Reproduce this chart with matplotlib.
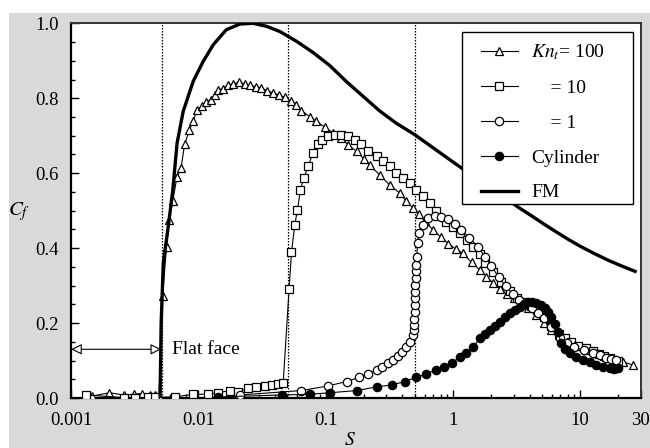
import matplotlib
matplotlib.use('Agg')
import matplotlib.pyplot as plt
from matplotlib.patches import Rectangle

plt.rcParams['font.family'] = ['Liberation Serif', 'DejaVu Serif']
plt.rcParams['mathtext.fontset'] = 'stix'
plt.rcParams['font.size'] = 11

# Kn_t = 100 (open triangles)
kn100_s = [0.00145, 0.0020, 0.0026, 0.0031, 0.0036, 0.0042, 0.0046, 0.0049,
           0.00524, 0.00562, 0.0059, 0.0063, 0.0068, 0.0073, 0.0078, 0.0085,
           0.0091, 0.0098, 0.0106, 0.0115, 0.0125, 0.0135, 0.0143, 0.0155,
           0.0171, 0.0188, 0.0209, 0.0232, 0.0254, 0.0283, 0.0313, 0.0349,
           0.0387, 0.0431, 0.0477, 0.053, 0.059, 0.0646, 0.075, 0.0847,
           0.0984, 0.114, 0.133, 0.150, 0.175, 0.20, 0.222, 0.266, 0.318,
           0.382, 0.43, 0.486, 0.54, 0.60, 0.697, 0.80, 0.92, 1.05, 1.2,
           1.4, 1.62, 1.83, 2.05, 2.33, 2.65, 3.0, 3.4, 3.9, 4.5, 5.2,
           5.9, 6.8, 7.8, 9.2, 11.1, 13.5, 16.0, 19.0, 21.6, 25.9]
kn100_cf = [0.005, 0.014, 0.008, 0.010, 0.012, 0.008, 0.008, 0.006,
            0.272, 0.404, 0.474, 0.527, 0.591, 0.613, 0.678, 0.714,
            0.740, 0.769, 0.778, 0.790, 0.796, 0.809, 0.823, 0.825,
            0.836, 0.838, 0.843, 0.838, 0.834, 0.831, 0.827, 0.820,
            0.814, 0.809, 0.802, 0.793, 0.783, 0.767, 0.751, 0.738,
            0.723, 0.708, 0.693, 0.676, 0.658, 0.638, 0.622, 0.595, 0.569,
            0.547, 0.525, 0.507, 0.490, 0.472, 0.449, 0.430, 0.412, 0.398,
            0.386, 0.362, 0.342, 0.324, 0.308, 0.292, 0.278, 0.266, 0.255,
            0.240, 0.222, 0.200, 0.182, 0.168, 0.155, 0.140, 0.128, 0.119,
            0.110, 0.102, 0.097, 0.088]

# Kn_t = 10 (open squares)
kn10_s = [0.00132, 0.0026, 0.0032, 0.0040, 0.0046, 0.00654, 0.0091, 0.0119,
          0.0143, 0.0177, 0.0206, 0.0246, 0.0286, 0.0333, 0.0376, 0.0424,
          0.0464, 0.0516, 0.0539, 0.0572, 0.060, 0.0634, 0.0673, 0.0728,
          0.0797, 0.0872, 0.0944, 0.104, 0.118, 0.133, 0.150, 0.169, 0.191,
          0.215, 0.251, 0.282, 0.318, 0.36, 0.405, 0.457, 0.516, 0.582,
          0.656, 0.74, 0.888, 1.0, 1.13, 1.28, 1.44, 1.62, 1.8, 2.06, 2.4,
          2.79, 3.2, 3.6, 4.1, 4.6, 5.2, 5.9, 6.87, 7.6, 8.5, 9.7, 11.1,
          12.5, 14.0, 15.5, 17.0, 20.0]
kn10_cf = [0.008, 0.001, 0.001, 0.002, 0.002, 0.003, 0.010, 0.010,
           0.014, 0.020, 0.017, 0.026, 0.030, 0.032, 0.035, 0.037,
           0.041, 0.290, 0.389, 0.462, 0.502, 0.556, 0.587, 0.618,
           0.655, 0.678, 0.689, 0.698, 0.702, 0.702, 0.698, 0.689, 0.678,
           0.660, 0.645, 0.632, 0.618, 0.600, 0.587, 0.573, 0.556, 0.538,
           0.520, 0.500, 0.471, 0.456, 0.440, 0.422, 0.404, 0.384, 0.360,
           0.335, 0.310, 0.285, 0.268, 0.255, 0.245, 0.235, 0.215, 0.193,
           0.170, 0.160, 0.150, 0.140, 0.133, 0.125, 0.118, 0.112, 0.106,
           0.098]

# Kn_t = 1 (open circles)
kn1_s = [0.0212, 0.0646, 0.104, 0.146, 0.183, 0.215, 0.251, 0.279, 0.309,
         0.338, 0.37, 0.40, 0.43, 0.463, 0.486, 0.494, 0.497, 0.499, 0.500,
         0.502, 0.504, 0.506, 0.508, 0.510, 0.513, 0.516, 0.520, 0.527,
         0.544, 0.578, 0.637, 0.718, 0.811, 0.914, 1.03, 1.16, 1.35, 1.57,
         1.8, 2.0, 2.3, 2.6, 2.95, 3.3, 3.7, 4.2, 4.7, 5.2, 5.9, 6.9, 7.9,
         9.0, 10.7, 12.6, 14.3, 16.0, 17.6, 19.2]
kn1_cf = [0.008, 0.020, 0.032, 0.044, 0.055, 0.064, 0.075, 0.084, 0.093,
          0.101, 0.112, 0.124, 0.137, 0.150, 0.168, 0.182, 0.196, 0.212, 0.230,
          0.248, 0.266, 0.284, 0.302, 0.320, 0.338, 0.356, 0.377, 0.413,
          0.440, 0.462, 0.480, 0.486, 0.484, 0.477, 0.465, 0.449, 0.427, 0.404,
          0.375, 0.352, 0.322, 0.298, 0.278, 0.262, 0.250, 0.240, 0.228, 0.213,
          0.190, 0.160, 0.146, 0.135, 0.127, 0.120, 0.114, 0.108, 0.105, 0.102]

# Cylinder (filled circles)
cyl_s = [0.0143, 0.045, 0.075, 0.108, 0.177, 0.254, 0.334, 0.418, 0.516,
         0.618, 0.731, 0.845, 0.989, 1.13, 1.27, 1.44, 1.62, 1.78, 1.94,
         2.13, 2.33, 2.55, 2.79, 3.05, 3.34, 3.6, 3.88, 4.2, 4.52, 4.9,
         5.25, 5.6, 5.93, 6.3, 6.68, 7.1, 7.6, 8.25, 9.3, 10.5, 11.9, 13.4,
         15.2, 17.0, 18.5, 19.8]
cyl_cf = [0.003, 0.008, 0.010, 0.014, 0.020, 0.030, 0.035, 0.044, 0.055,
          0.064, 0.075, 0.084, 0.094, 0.109, 0.121, 0.135, 0.159, 0.170, 0.182,
          0.193, 0.204, 0.215, 0.226, 0.236, 0.244, 0.250, 0.255, 0.256, 0.253,
          0.248, 0.240, 0.230, 0.217, 0.198, 0.177, 0.146, 0.132, 0.119, 0.110,
          0.102, 0.095, 0.088, 0.083, 0.079, 0.078, 0.079]

# Free molecular limit (thick line)
fm_s = [0.0050, 0.0051, 0.0053, 0.0058, 0.0063, 0.0068, 0.0076, 0.0091,
        0.0109, 0.0131, 0.0166, 0.0212, 0.0269, 0.0343, 0.0437, 0.059,
        0.0797, 0.108, 0.146, 0.197, 0.266, 0.36, 0.5, 0.697, 1.0, 1.2,
        1.6, 2.0, 2.62, 3.3, 4.2, 5.2, 6.5, 8.0, 10.0, 13.0, 17.0, 22.0, 27.0]
fm_cf = [0.0, 0.20, 0.36, 0.458, 0.556, 0.680, 0.765, 0.845,
         0.898, 0.943, 0.983, 0.998, 1.0, 0.992, 0.978, 0.952,
         0.922, 0.887, 0.844, 0.805, 0.766, 0.733, 0.703, 0.668, 0.630, 0.611,
         0.580, 0.558, 0.532, 0.508, 0.485, 0.464, 0.443, 0.424, 0.405, 0.385,
         0.366, 0.350, 0.338]

# dotted markers of the transition points
vlines_s = [0.0052, 0.051, 0.5]

fig = plt.figure(figsize=(6.5, 4.48), dpi=100)
fig.patch.set_facecolor('white')
# grey panel behind the plot
fig.patches.append(Rectangle((9 / 650, 0), 1, 1 - 13 / 448, transform=fig.transFigure,
                             facecolor='#d9d9d9', edgecolor='none', zorder=-10))
ax = fig.add_axes([0.1094, 0.1116, 0.8766, 0.8364])
ax.set_facecolor('white')

for xv in vlines_s:
    ax.axvline(xv, color='black', ls=(0, (1.2, 1.2)), lw=0.9, zorder=1)

ax.plot(kn100_s, kn100_cf, '-^', color='black', mfc='white', mec='black',
        ms=6, mew=0.9, lw=0.8, label='$Kn_t$= 100', zorder=3)
ax.plot(kn10_s, kn10_cf, '-s', color='black', mfc='white', mec='black',
        ms=5.5, mew=0.9, lw=0.8, label='    = 10', zorder=3)
ax.plot(kn1_s, kn1_cf, '-o', color='black', mfc='white', mec='black',
        ms=6, mew=0.9, lw=0.8, label='    = 1', zorder=3)
ax.plot(cyl_s, cyl_cf, '-o', color='black', mfc='black', mec='black',
        ms=6, mew=0.9, lw=0.8, label='Cylinder', zorder=3)
ax.plot(fm_s, fm_cf, '-', color='black', lw=2.4, label='FM', zorder=4)

# flat face arrow
ax.annotate('', xy=(0.001, 0.13), xytext=(0.0051, 0.13),
            arrowprops=dict(arrowstyle='<|-|>', fc='white', ec='black', lw=0.8,
                            mutation_scale=16, shrinkA=0, shrinkB=0))
ax.text(0.0062, 0.13, 'Flat face', va='center', ha='left', fontsize=14)

ax.set_xscale('log')
ax.set_xlim(0.001, 30)
ax.set_ylim(0, 1.0)
ax.set_xticks([0.001, 0.01, 0.1, 1, 10, 30])
ax.set_xticklabels(['0.001', '0.01', '0.1', '1', '10', '30'])
ax.set_yticks([0, 0.2, 0.4, 0.6, 0.8, 1.0])
ax.set_yticklabels(['0.0', '0.2', '0.4', '0.6', '0.8', '1.0'])
ax.set_yticks([0.05, 0.1, 0.15, 0.25, 0.3, 0.35, 0.45, 0.5, 0.55, 0.65, 0.7,
               0.75, 0.85, 0.9, 0.95], minor=True)
ax.tick_params(which='major', direction='in', length=6, width=1, labelsize=13.5,
               top=False, right=False)
ax.tick_params(axis='y', which='major', pad=9)
ax.tick_params(axis='x', which='major', pad=10)
ax.tick_params(which='minor', direction='in', length=3, width=1,
               top=False, right=False)
for side in ['left', 'bottom']:
    ax.spines[side].set_linewidth(1.6)
for side in ['top', 'right']:
    ax.spines[side].set_linewidth(1.4)
    ax.spines[side].set_color('#333333')

fig.text(19 / 650, 1 - 212 / 448, '$C_f$', fontsize=15, ha='center', va='center')
fig.text(350 / 650, 1 - 440 / 448, '$S$', fontsize=14, ha='center', va='center')

# legend frame drawn separately so the side padding can be wider than the top
ax.add_patch(Rectangle((0.686, 0.518), 0.300, 0.459, transform=ax.transAxes,
                       facecolor='white', edgecolor='black', lw=1.0, zorder=5))
leg = ax.legend(loc='upper left', bbox_to_anchor=(0.719, 0.948), frameon=False,
                handlelength=1.9, labelspacing=0.88, borderpad=0, handletextpad=0.7,
                borderaxespad=0, fontsize=14)
leg.set_zorder(6)

fig.savefig('out.png', dpi=100)
